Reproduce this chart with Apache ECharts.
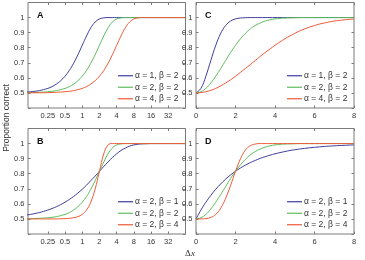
<!DOCTYPE html>
<html>
<head>
<meta charset="utf-8">
<script src="https://cdn.jsdelivr.net/npm/echarts@6/dist/echarts.min.js"></script>
<style>
  html, body { margin: 0; padding: 0; background: #fff; }
  #chart { width: 365px; height: 260px; }
</style>
</head>
<body>
<div id="chart"></div>
<script>
// Δx samples for the log panels (A, B), quarter-octave steps
const xLog = [0.105, 0.125, 0.149, 0.177, 0.210, 0.25, 0.297, 0.354, 0.420, 0.5, 0.595, 0.707, 0.841,
  1, 1.19, 1.41, 1.68, 2, 2.38, 2.83, 3.36, 4, 4.76, 5.66, 6.73, 8, 9.51, 11.3, 13.5,
  16, 19.0, 22.6, 26.9, 32, 38.1, 45.3, 53.8, 64];
// Δx samples for the linear panels (C, D)
const xLin = [0, 0.25, 0.5, 0.75, 1, 1.25, 1.5, 1.75, 2, 2.25, 2.5, 2.75, 3, 3.25, 3.5, 3.75, 4,
  4.25, 4.5, 4.75, 5, 5.25, 5.5, 5.75, 6, 6.25, 6.5, 6.75, 7, 7.25, 7.5, 7.75, 8];

const logTicks = [-2, -1, 0, 1, 2, 3, 4, 5]; // log2 of 0.25 .. 32

// panel A (log x, beta = 2)
const aAlpha1 = [0.506, 0.508, 0.511, 0.515, 0.522, 0.530, 0.542, 0.559, 0.581, 0.611, 0.649, 0.697, 0.753,
  0.816, 0.878, 0.932, 0.970, 0.991, 0.998, 1.0, 1, 1, 1, 1, 1, 1, 1, 1, 1, 1, 1, 1, 1, 1, 1, 1, 1, 1];
const aAlpha2 = [0.501, 0.502, 0.503, 0.504, 0.506, 0.508, 0.511, 0.515, 0.522, 0.530, 0.542, 0.559, 0.581,
  0.611, 0.649, 0.697, 0.753, 0.816, 0.878, 0.932, 0.970, 0.991, 0.998, 1.0, 1, 1, 1, 1, 1, 1, 1, 1, 1, 1, 1, 1, 1, 1];
const aAlpha4 = [0.500, 0.501, 0.501, 0.501, 0.501, 0.502, 0.503, 0.504, 0.506, 0.508, 0.511, 0.515, 0.522,
  0.530, 0.542, 0.559, 0.581, 0.611, 0.649, 0.697, 0.753, 0.816, 0.878, 0.932, 0.970, 0.991, 0.998, 1.0,
  1, 1, 1, 1, 1, 1, 1, 1, 1, 1];

// panel B (log x, alpha = 2)
const bBeta1 = [0.526, 0.530, 0.536, 0.542, 0.550, 0.559, 0.569, 0.581, 0.595, 0.611, 0.629, 0.649, 0.672,
  0.697, 0.724, 0.754, 0.784, 0.816, 0.848, 0.878, 0.907, 0.932, 0.954, 0.970, 0.983, 0.991, 0.996, 0.998,
  0.999, 1.0, 1, 1, 1, 1, 1, 1, 1, 1];
const bBeta2 = [0.501, 0.502, 0.503, 0.504, 0.506, 0.508, 0.511, 0.515, 0.522, 0.530, 0.542, 0.559, 0.581,
  0.611, 0.649, 0.697, 0.753, 0.816, 0.878, 0.932, 0.970, 0.991, 0.998, 1.0, 1, 1, 1, 1, 1, 1, 1, 1, 1, 1, 1, 1, 1, 1];
const bBeta4 = [0.500, 0.500, 0.500, 0.500, 0.500, 0.500, 0.500, 0.500, 0.501, 0.502, 0.504, 0.508, 0.515,
  0.530, 0.559, 0.611, 0.697, 0.816, 0.932, 0.991, 1.0, 1, 1, 1, 1, 1, 1, 1, 1, 1, 1, 1, 1, 1, 1, 1, 1, 1];

// panel C (linear x, beta = 2)
const cAlpha1 = [0.500, 0.530, 0.611, 0.715, 0.816, 0.895, 0.947, 0.977, 0.991, 0.997, 0.999, 1.0, 1.0,
  1, 1, 1, 1, 1, 1, 1, 1, 1, 1, 1, 1, 1, 1, 1, 1, 1, 1, 1, 1];
const cAlpha2 = [0.500, 0.508, 0.530, 0.566, 0.611, 0.662, 0.715, 0.768, 0.816, 0.859, 0.895, 0.925, 0.947,
  0.964, 0.977, 0.985, 0.991, 0.995, 0.997, 0.998, 0.999, 1.0, 1.0, 1.0, 1.0, 1, 1, 1, 1, 1, 1, 1, 1];
const cAlpha4 = [0.500, 0.502, 0.508, 0.517, 0.530, 0.547, 0.566, 0.587, 0.611, 0.636, 0.662, 0.688, 0.715,
  0.742, 0.768, 0.792, 0.816, 0.838, 0.859, 0.878, 0.895, 0.911, 0.925, 0.937, 0.947, 0.957, 0.964, 0.971,
  0.977, 0.981, 0.985, 0.988, 0.991];

// panel D (linear x, alpha = 2)
const dBeta1 = [0.500, 0.559, 0.611, 0.656, 0.697, 0.732, 0.764, 0.792, 0.816, 0.838, 0.857, 0.874, 0.888,
  0.902, 0.913, 0.923, 0.932, 0.940, 0.947, 0.954, 0.959, 0.964, 0.968, 0.972, 0.975, 0.978, 0.981, 0.983,
  0.985, 0.987, 0.988, 0.990, 0.991];
const dBeta2 = [0.500, 0.508, 0.530, 0.566, 0.611, 0.662, 0.715, 0.768, 0.816, 0.859, 0.895, 0.925, 0.947,
  0.964, 0.977, 0.985, 0.991, 0.995, 0.997, 0.998, 0.999, 1.0, 1.0, 1.0, 1.0, 1, 1, 1, 1, 1, 1, 1, 1];
const dBeta4 = [0.500, 0.500, 0.502, 0.510, 0.530, 0.571, 0.636, 0.722, 0.816, 0.899, 0.957, 0.986, 0.997,
  1.0, 1.0, 1, 1, 1, 1, 1, 1, 1, 1, 1, 1, 1, 1, 1, 1, 1, 1, 1, 1];

const namesAlpha = ['α = 1, β = 2', 'α = 2, β = 2', 'α = 4, β = 2'];
const namesBeta = ['α = 2, β = 1', 'α = 2, β = 2', 'α = 2, β = 4'];
const colors = ['#3d3d9c', '#5cbd5c', '#ef5a36'];

const FONT = 'Liberation Sans';
const frameColor = '#7a7a7a';

const panels = [
  { letter: 'A', left: 28, top: 2.5, log: true, xs: xLog, ys: [aAlpha1, aAlpha2, aAlpha4], names: namesAlpha },
  { letter: 'C', left: 196, top: 2.5, log: false, xs: xLin, ys: [cAlpha1, cAlpha2, cAlpha4], names: namesAlpha },
  { letter: 'B', left: 28, top: 128.5, log: true, xs: xLog, ys: [bBeta1, bBeta2, bBeta4], names: namesBeta },
  { letter: 'D', left: 196, top: 128.5, log: false, xs: xLin, ys: [dBeta1, dBeta2, dBeta4], names: namesBeta }
];

const grid = [], xAxis = [], yAxis = [], series = [], legend = [], title = [];

panels.forEach(function (p, i) {
  grid.push({
    left: p.left, top: p.top, width: p.log ? 157.5 : 158, height: 105.5,
    show: true, borderColor: frameColor, borderWidth: 1, backgroundColor: 'transparent'
  });
  const tick = { show: true, inside: true, length: 2.5, lineStyle: { color: frameColor, width: 1 } };
  const noLine = { show: false, onZero: false };
  const xBase = p.log
    ? { type: 'value', min: -3.15, max: 6 }
    : { type: 'value', min: 0, max: 8, interval: 2 };
  // bottom x axis with labels
  xAxis.push(Object.assign({}, xBase, {
    gridIndex: i, position: 'bottom',
    axisLine: noLine, splitLine: { show: false },
    axisTick: Object.assign({}, tick, p.log ? { customValues: logTicks } : {}),
    axisLabel: Object.assign({
      show: true, margin: 3.5, fontSize: 7.5, color: '#333', fontFamily: FONT,
      formatter: function (v) { return p.log ? String(Math.pow(2, v)) : String(v); }
    }, p.log ? { customValues: logTicks } : {})
  }));
  // top mirror
  xAxis.push(Object.assign({}, xBase, {
    gridIndex: i, position: 'top',
    axisLine: noLine, splitLine: { show: false },
    axisTick: Object.assign({}, tick, p.log ? { customValues: logTicks } : {}),
    axisLabel: { show: false }
  }));
  const yBase = { type: 'value', min: 0.4, max: 1.1, interval: 0.1 };
  yAxis.push(Object.assign({}, yBase, {
    gridIndex: i, position: 'left',
    axisLine: noLine, splitLine: { show: false }, axisTick: tick,
    axisLabel: {
      margin: 3.5, fontSize: 7.5, color: '#333', fontFamily: FONT,
      formatter: function (v) {
        const r = Math.round(v * 10) / 10;
        return (r < 0.45 || r > 1.05) ? '' : String(r);
      }
    }
  }));
  yAxis.push(Object.assign({}, yBase, {
    gridIndex: i, position: 'right',
    axisLine: noLine, splitLine: { show: false }, axisTick: tick,
    axisLabel: { show: false }
  }));

  p.ys.forEach(function (ys, k) {
    series.push({
      type: 'line', name: p.names[k],
      xAxisIndex: i * 2, yAxisIndex: i * 2,
      data: p.xs.map(function (x, j) { return [p.log ? Math.log2(x) : x, ys[j]]; }),
      symbol: 'none', smooth: 0.4,
      lineStyle: { color: colors[k], width: 1 }, itemStyle: { color: colors[k] },
      animation: false
    });
  });

  legend.push({
    orient: 'vertical', left: p.log ? 118 : 287, top: p.top + 68.5,
    padding: 0, itemGap: 2, itemWidth: 15, itemHeight: 1.2, icon: 'rect', selectedMode: false,
    textStyle: { fontSize: 8.5, color: '#333', fontFamily: FONT, lineHeight: 9.5, padding: [0, 0, 0, -3] },
    data: p.names
  });

  title.push({
    text: p.letter, left: p.left + 9, top: p.top + 8.5, padding: 0,
    textStyle: { fontSize: 9, fontWeight: 'bold', color: '#111', fontFamily: FONT }
  });
});

const chart = echarts.init(document.getElementById('chart'), null, { renderer: 'canvas' });
chart.setOption({
  animation: false,
  backgroundColor: '#fff',
  title: title,
  legend: legend,
  grid: grid,
  xAxis: xAxis,
  yAxis: yAxis,
  series: series,
  graphic: [
    {
      type: 'text', x: 7, y: 118, rotation: Math.PI / 2,
      style: {
        text: 'Proportion correct', fill: '#333', fontSize: 8.5, fontFamily: FONT,
        align: 'center', verticalAlign: 'middle', textAlign: 'center', textVerticalAlign: 'middle'
      }
    },
    {
      type: 'text', x: 190, y: 254,
      style: {
        text: '{d|Δ}{x|x}', fill: '#333', align: 'center', verticalAlign: 'middle',
        textAlign: 'center', textVerticalAlign: 'middle',
        rich: {
          d: { fontSize: 9, fontFamily: 'Liberation Serif', fill: '#333' },
          x: { fontSize: 9, fontFamily: 'Liberation Serif', fontStyle: 'italic', fill: '#333' }
        }
      }
    }
  ]
});
</script>
</body>
</html>
